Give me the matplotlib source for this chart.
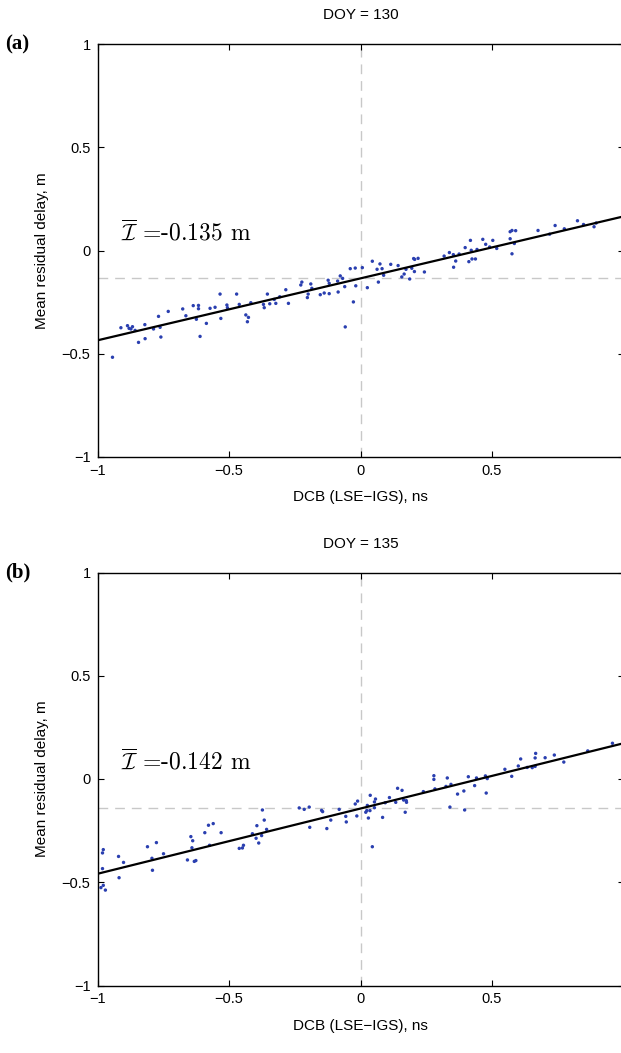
import numpy as np
import matplotlib
matplotlib.use("Agg")
import matplotlib.pyplot as plt

plt.rcParams['font.family'] = ['Liberation Sans', 'DejaVu Sans']
plt.rcParams['mathtext.fontset'] = 'cm'

# ---------------- data ----------------
titles = ["DOY = 130", "DOY = 135"]
panel_labels = ["(a)", "(b)"]
mean_delay = [-0.135, -0.142]
fit_slope = [0.300, 0.316]
fit_intercept = [-0.135, -0.143]

xticks = [-1, -0.5, 0, 0.5, 1]
yticks = [-1, -0.5, 0, 0.5, 1]
tick_labels = ["\u22121", "\u22120.5", "0", "0.5", "1"]

dcb_a = [-0.943, -0.911, -0.886, -0.880, -0.873, -0.867, -0.857, -0.844, -0.820, -0.819,
         -0.787, -0.768, -0.762, -0.759, -0.731, -0.676, -0.664, -0.636, -0.624, -0.616,
         -0.616, -0.610, -0.586, -0.572, -0.553, -0.534, -0.531, -0.508, -0.506, -0.471,
         -0.461, -0.436, -0.426, -0.430, -0.417, -0.369, -0.366, -0.354, -0.345, -0.328,
         -0.322, -0.307, -0.284, -0.274, -0.227, -0.223, -0.202, -0.199, -0.189, -0.185,
         -0.153, -0.138, -0.123, -0.119, -0.119, -0.087, -0.085, -0.077, -0.068, -0.060,
         -0.058, -0.039, -0.027, -0.020, -0.018, 0.007, 0.026, 0.045, 0.063, 0.068,
         0.074, 0.082, 0.088, 0.115, 0.143, 0.157, 0.166, 0.173, 0.187, 0.195,
         0.202, 0.206, 0.219, 0.205, 0.243, 0.318, 0.338, 0.353, 0.354, 0.362,
         0.375, 0.398, 0.412, 0.418, 0.421, 0.424, 0.437, 0.443, 0.465, 0.476,
         0.491, 0.503, 0.518, 0.569, 0.569, 0.576, 0.576, 0.585, 0.590, 0.675,
         0.719, 0.740, 0.775, 0.825, 0.848, 0.888, 0.896]
res_a = [-0.517, -0.374, -0.364, -0.377, -0.380, -0.369, -0.387, -0.445, -0.359, -0.427,
         -0.380, -0.319, -0.372, -0.419, -0.295, -0.283, -0.316, -0.267, -0.333, -0.266,
         -0.282, -0.416, -0.353, -0.280, -0.275, -0.211, -0.329, -0.264, -0.277, -0.211,
         -0.261, -0.312, -0.324, -0.345, -0.253, -0.261, -0.277, -0.211, -0.258, -0.237,
         -0.256, -0.224, -0.190, -0.256, -0.167, -0.153, -0.228, -0.211, -0.162, -0.183,
         -0.214, -0.206, -0.144, -0.159, -0.209, -0.148, -0.201, -0.123, -0.135, -0.175,
         -0.370, -0.088, -0.249, -0.085, -0.171, -0.083, -0.180, -0.052, -0.091, -0.153,
         -0.065, -0.088, -0.120, -0.067, -0.073, -0.128, -0.114, -0.091, -0.138, -0.086,
         -0.039, -0.043, -0.038, -0.102, -0.104, -0.027, -0.010, -0.020, -0.081, -0.051,
         -0.017, 0.014, -0.054, 0.049, 0.001, -0.041, -0.041, 0.005, 0.054, 0.030,
         0.017, 0.049, 0.010, 0.057, 0.091, 0.097, -0.016, 0.034, 0.096, 0.097,
         0.079, 0.121, 0.105, 0.144, 0.126, 0.115, 0.133]

dcb_b = [-0.987, -0.978, -0.970, -0.981, -0.981, -0.978, -0.920, -0.918, -0.901, -0.810,
         -0.793, -0.791, -0.776, -0.749, -0.658, -0.645, -0.641, -0.638, -0.632, -0.626,
         -0.592, -0.578, -0.560, -0.574, -0.530, -0.461, -0.449, -0.445, -0.411, -0.397,
         -0.394, -0.387, -0.376, -0.373, -0.366, -0.357, -0.233, -0.214, -0.195, -0.193,
         -0.148, -0.144, -0.128, -0.113, -0.081, -0.056, -0.054, -0.020, -0.014, -0.011,
         0.020, 0.024, 0.026, 0.030, 0.036, 0.037, 0.045, 0.053, 0.053, 0.057,
         0.084, 0.094, 0.110, 0.134, 0.141, 0.158, 0.164, 0.170, 0.174, 0.175,
         0.239, 0.279, 0.279, 0.283, 0.325, 0.330, 0.340, 0.344, 0.369, 0.393,
         0.396, 0.410, 0.434, 0.441, 0.475, 0.478, 0.482, 0.549, 0.575, 0.600,
         0.609, 0.634, 0.653, 0.664, 0.666, 0.664, 0.702, 0.737, 0.773, 0.864,
         0.958]
res_b = [-0.526, -0.515, -0.538, -0.434, -0.358, -0.342, -0.375, -0.478, -0.404, -0.328,
         -0.384, -0.442, -0.308, -0.362, -0.392, -0.279, -0.333, -0.299, -0.399, -0.395,
         -0.260, -0.224, -0.216, -0.321, -0.260, -0.336, -0.334, -0.321, -0.265, -0.287,
         -0.226, -0.310, -0.274, -0.150, -0.199, -0.244, -0.140, -0.147, -0.136, -0.234,
         -0.152, -0.158, -0.240, -0.199, -0.147, -0.181, -0.208, -0.121, -0.179, -0.107,
         -0.161, -0.153, -0.128, -0.189, -0.153, -0.079, -0.328, -0.139, -0.111, -0.097,
         -0.186, -0.115, -0.090, -0.113, -0.045, -0.055, -0.102, -0.161, -0.105, -0.113,
         -0.061, 0.016, -0.002, -0.048, -0.036, 0.005, -0.136, -0.026, -0.073, -0.058,
         -0.150, 0.011, -0.032, 0.005, 0.015, -0.068, 0.002, 0.047, 0.013, 0.063,
         0.097, 0.056, 0.055, 0.102, 0.124, 0.061, 0.103, 0.116, 0.082, 0.136,
         0.173]

dcb = [dcb_a, dcb_b]
res = [res_a, res_b]

# ---------------- figure ----------------
W, H = 621, 1053
fig = plt.figure(figsize=(W / 100, H / 100), dpi=100)

ax_left = 97.5 / W
ax_w = (623.5 - 97.5) / W
ax_h = 413 / H
bottoms = [(H - 457) / H, (H - 985.5) / H]

for i in range(2):
    ax = fig.add_axes([ax_left, bottoms[i], ax_w, ax_h])
    ax.set_xlim(-1, 1)
    ax.set_ylim(-1, 1)

    ax.axvline(0, color='#c8c8c8', lw=1.0, ls=(0, (7, 5)), zorder=1)
    ax.axhline(mean_delay[i], color='#c8c8c8', lw=1.0, ls=(0, (7, 5)), zorder=1)

    xs = np.array([-1.0, 1.0])
    ax.plot(xs, fit_slope[i] * xs + fit_intercept[i], color='black', lw=1.6, zorder=3)

    ax.scatter(dcb[i], res[i], s=6, color='#2a3fb0', edgecolors='none', zorder=2)

    ax.set_xticks(xticks)
    ax.set_xticklabels(tick_labels)
    ax.set_yticks(yticks)
    ax.set_yticklabels(tick_labels)
    ax.tick_params(direction='in', length=4, width=0.8, top=True, right=True,
                   labelsize=10.5, pad=5)
    for sp in ax.spines.values():
        sp.set_linewidth(1.0)

    ax.set_xlabel("DCB (LSE\u2212IGS), ns", fontsize=11, labelpad=9)
    ax.set_ylabel("Mean residual delay, m", fontsize=11, labelpad=9)
    ax.set_title(titles[i], fontsize=11, pad=18)

    ax.text(-0.91, 0.085, r'$\overline{\mathcal{I}}$ =' + f'{mean_delay[i]:.3f} m',
            fontsize=17, va='center', ha='left', family=['cmr10', 'DejaVu Serif'])

    fig.text(5 / W, bottoms[i] + ax_h, panel_labels[i], fontsize=15, fontweight='bold',
             family=['Liberation Serif', 'DejaVu Serif'], va='center', ha='left')

fig.savefig("out.png", dpi=100)
